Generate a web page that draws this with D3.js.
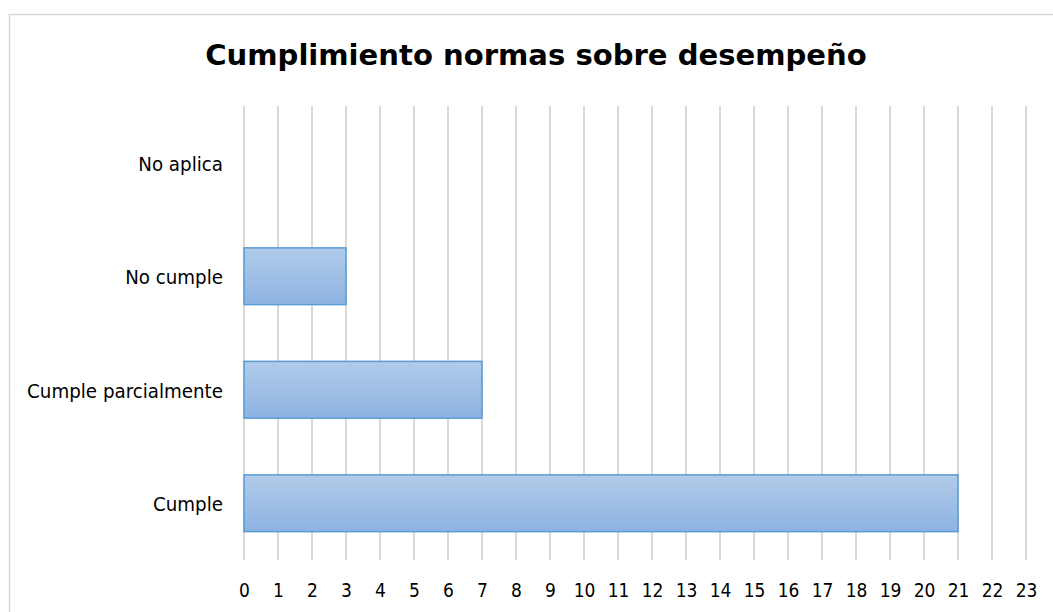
<!DOCTYPE html>
<html><head><meta charset="utf-8">
<script src="https://cdn.jsdelivr.net/npm/d3@7"></script>
<style>html,body{margin:0;padding:0;background:#fff;}</style>
</head><body>
<svg id="c" width="1053" height="612"></svg>
<script>
const title = "Cumplimiento normas sobre desempeño";
const categories = ["Cumple", "Cumple parcialmente", "No cumple", "No aplica"];
const values = [21, 7, 3, 0];
const tickValues = d3.range(0, 24);

const svg = d3.select("#c");
const m = {left: 244, right: 1026, top: 106, bottom: 560};

svg.append("rect").attr("x", 9.5).attr("y", 14.5).attr("width", 1060).attr("height", 620)
  .attr("fill", "#fff").attr("stroke", "#d9d9d9").attr("stroke-width", 1.5);

const defs = svg.append("defs");
const g = defs.append("linearGradient").attr("id", "bg").attr("x1", 0).attr("y1", 0).attr("x2", 0).attr("y2", 1);
g.append("stop").attr("offset", "0%").attr("stop-color", "#b1cbe9");
g.append("stop").attr("offset", "100%").attr("stop-color", "#8db3e2");

const x = d3.scaleLinear().domain([0, 23]).range([m.left, m.right]);
const y = d3.scaleBand().domain(categories.slice().reverse()).range([m.top, m.bottom]).paddingInner(0.5).paddingOuter(0.25);

svg.append("g").selectAll("line").data(tickValues).join("line")
  .attr("x1", d => x(d)).attr("x2", d => x(d))
  .attr("y1", m.top).attr("y2", m.bottom)
  .attr("stroke", "#d9d9d9").attr("stroke-width", 2);

svg.append("g").selectAll("rect").data(categories).join("rect")
  .attr("x", x(0)).attr("y", c => y(c))
  .attr("width", (c, i) => x(values[i]) - x(0))
  .attr("height", y.bandwidth())
  .attr("fill", "url(#bg)").attr("stroke", "#5b9bd5").attr("stroke-width", 1.5)
  .style("display", (c, i) => values[i] > 0 ? null : "none");

const xAxis = d3.axisBottom(x).tickValues(tickValues).tickSize(0).tickFormat(d3.format("d"));
const xa = svg.append("g").attr("transform", `translate(0,${m.bottom})`).call(xAxis);
xa.select(".domain").remove();
xa.selectAll("text").attr("font-family", "'DejaVu Sans Condensed', 'DejaVu Sans', sans-serif")
  .attr("font-size", 19).attr("fill", "#000").attr("dy", 0).attr("y", 37);

const yAxis = d3.axisLeft(y).tickSize(0).tickPadding(21);
const ya = svg.append("g").attr("transform", `translate(${m.left},0)`).call(yAxis);
ya.select(".domain").remove();
ya.selectAll("text").attr("font-family", "'DejaVu Sans Condensed', 'DejaVu Sans', sans-serif")
  .attr("font-size", 17).attr("fill", "#000").attr("dy", "0.4em");

const lbl = ya.selectAll("text").filter(d => d === "Cumple parcialmente").node();
const lw = lbl.getComputedTextLength();
ya.selectAll("text").attr("font-size", 17 * 196 / lw);

const t = svg.append("text").attr("x", 536).attr("y", 65).attr("text-anchor", "middle")
  .attr("font-family", "'DejaVu Sans', sans-serif").attr("font-weight", "bold")
  .attr("font-size", 28).attr("fill", "#000").text(title);
const tw = t.node().getComputedTextLength();
t.attr("font-size", 28 * 662 / tw);
</script>
</body></html>
